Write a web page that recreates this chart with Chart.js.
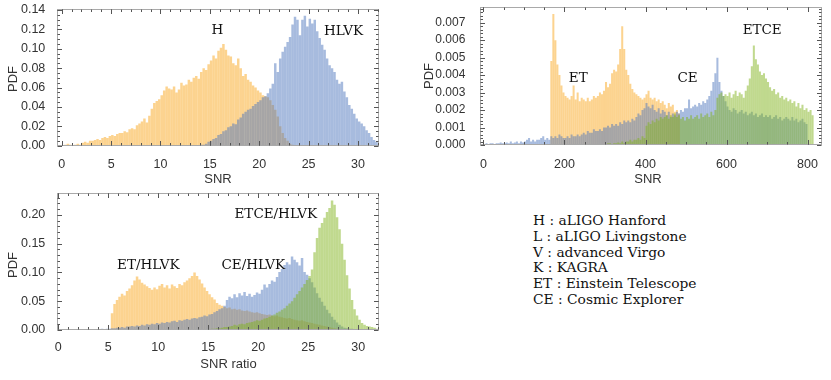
<!DOCTYPE html>
<html>
<head>
<meta charset="utf-8">
<script src="https://cdn.jsdelivr.net/npm/chart.js@4.4.1/dist/chart.umd.min.js"></script>
<style>
  body { margin: 0; background: #fff; width: 831px; height: 380px; overflow: hidden; position: relative; }
  canvas { position: absolute; }
  #legend { position: absolute; left: 533px; top: 213px; font-family: 'DejaVu Serif'; font-size: 13.8px;
            line-height: 15.8px; color: #111; white-space: pre; }
</style>
</head>
<body>
<canvas id="c1" width="390" height="190" style="left:0;top:0"></canvas>
<canvas id="c2" width="421" height="190" style="left:410px;top:0"></canvas>
<canvas id="c3" width="390" height="195" style="left:0;top:185px"></canvas>
<div id="legend"></div>
<script>
// bin widths
const snrBin = 0.25;
const wideBin = 5;

// panel 1: SNR of H and HLVK
const hStart = 0.25;
const hValues = [
  0.001, 0.002, 0.001,
  0.000, 0.001, 0.002, 0.001,
  0.003, 0.004, 0.003, 0.005,
  0.005, 0.006, 0.007, 0.006,
  0.008, 0.009, 0.008, 0.010,
  0.011, 0.010, 0.012, 0.013,
  0.013, 0.015, 0.014, 0.017,
  0.018, 0.017, 0.021, 0.023,
  0.025, 0.028, 0.024, 0.031,
  0.038, 0.044, 0.046, 0.048,
  0.052, 0.057, 0.061, 0.059,
  0.058, 0.061, 0.055, 0.058,
  0.065, 0.062, 0.063, 0.068,
  0.066, 0.070, 0.072, 0.069,
  0.076, 0.080, 0.078, 0.084,
  0.088, 0.093, 0.090, 0.098,
  0.101, 0.105, 0.099, 0.093,
  0.092, 0.085, 0.083, 0.090,
  0.080, 0.072, 0.074, 0.068,
  0.066, 0.062, 0.060, 0.057,
  0.055, 0.052, 0.051, 0.050,
  0.047, 0.042, 0.037, 0.030,
  0.020, 0.013, 0.008, 0.005,
  0.002, 0.001
];
const hlvkStart = 14.0;
const hlvkValues = [
  0.001, 0.001, 0.002, 0.004,
  0.005, 0.007, 0.008, 0.011,
  0.012, 0.015, 0.016, 0.019,
  0.020, 0.023, 0.022, 0.027,
  0.029, 0.033, 0.035, 0.037,
  0.038, 0.041, 0.043, 0.045,
  0.047, 0.050, 0.051, 0.054,
  0.059, 0.064, 0.085, 0.076,
  0.090, 0.097, 0.102, 0.107,
  0.112, 0.125, 0.133, 0.130,
  0.114, 0.130, 0.134, 0.123,
  0.131, 0.126, 0.130, 0.118,
  0.111, 0.104, 0.099, 0.090,
  0.083, 0.080, 0.076, 0.068,
  0.064, 0.066, 0.056, 0.050,
  0.042, 0.038, 0.033, 0.028,
  0.025, 0.023, 0.020, 0.016,
  0.013, 0.009, 0.006, 0.004,
  0.002
];
const p1XTicks = [0, 5, 10, 15, 20, 25, 30];
const p1YTicks = [0, 0.02, 0.04, 0.06, 0.08, 0.10, 0.12, 0.14];

// panel 2: SNR of ET, CE and ETCE
const etStart = 165;
const etValues = [
  0.0048, 0.0075, 0.0060, 0.0046, 0.0040, 0.0034, 0.0030,
  0.0028, 0.0027, 0.0026, 0.0028, 0.0034, 0.0026, 0.0030, 0.0025, 0.0027, 0.0026,
  0.0025, 0.0027, 0.0025, 0.0026, 0.0028, 0.0027, 0.0028, 0.0030, 0.0029, 0.0031,
  0.0036, 0.0033, 0.0035, 0.0041, 0.0043, 0.0042, 0.0046, 0.0055, 0.0068, 0.0055,
  0.0043, 0.0040, 0.0035, 0.0032, 0.0030, 0.0029, 0.0028, 0.0027, 0.0026, 0.0027,
  0.0029, 0.0031, 0.0027, 0.0026, 0.0027, 0.0025, 0.0026, 0.0024, 0.0025, 0.0023,
  0.0021, 0.0024, 0.0022, 0.0023, 0.0019, 0.0020, 0.0018
];
const ceStart = 0;
const ceValues = [
  0.00005, 0.0001, 0.00005, 0.0001, 0.0001, 0.00005, 0.0001, 0.0001, 0.00015, 0.0001,
  0.0001, 0.00015, 0.0001, 0.0002, 0.0001, 0.00015, 0.0002, 0.0001, 0.0002, 0.00015,
  0.0002, 0.0003, 0.0004, 0.0002, 0.0003, 0.0002, 0.0003, 0.0003, 0.0004, 0.0005,
  0.0003, 0.0004, 0.0003, 0.0005, 0.0004, 0.0005, 0.0004, 0.0006, 0.0005, 0.0004,
  0.0004, 0.0005, 0.0004, 0.0006, 0.0005, 0.0005, 0.0006, 0.0005, 0.0006, 0.0007,
  0.0006, 0.0008, 0.0007, 0.0007, 0.0009, 0.0008, 0.0008, 0.0009, 0.0008, 0.0010,
  0.0010, 0.0011, 0.0010, 0.0012, 0.0011, 0.0012, 0.0011, 0.0013, 0.0012, 0.0014,
  0.0013, 0.0014, 0.0013, 0.0015, 0.0014, 0.0016, 0.0018, 0.0017, 0.0020, 0.0021,
  0.0024, 0.0022, 0.0021, 0.0023, 0.0020, 0.0019, 0.0021, 0.0018, 0.0020, 0.0019,
  0.0017, 0.0019, 0.0016, 0.0018, 0.0017, 0.0019, 0.0018, 0.0020, 0.0019, 0.0021,
  0.0021, 0.0026, 0.0021, 0.0022, 0.0023, 0.0022, 0.0024, 0.0023, 0.0025, 0.0024,
  0.0026, 0.0028, 0.0031, 0.0036, 0.0041, 0.0050, 0.0036, 0.0031, 0.0028, 0.0025,
  0.0022, 0.0020, 0.0019, 0.0021, 0.0020, 0.0018, 0.0019, 0.0020, 0.0018, 0.0019,
  0.0017, 0.0018, 0.0019, 0.0017, 0.0018, 0.0016, 0.0017, 0.0018, 0.0016, 0.0017,
  0.0016, 0.0017, 0.0015, 0.0016, 0.0017, 0.0015, 0.0016, 0.0014, 0.0015, 0.0016,
  0.0015, 0.0014, 0.0016, 0.0014, 0.0015, 0.0013, 0.0014, 0.0015, 0.0013, 0.0012
];
const etceStart = 300;
const etceValues = [
  0.00005, 0.0001, 0.0001, 0.00005, 0.0001, 0.0001, 0.00015, 0.0001, 0.0002, 0.0001,
  0.0002, 0.0002, 0.0003, 0.0002, 0.0003, 0.0003, 0.0004, 0.0003, 0.0005, 0.0004,
  0.0011, 0.0013, 0.0012, 0.0014, 0.0013, 0.0015, 0.0014, 0.0016, 0.0015, 0.0016,
  0.0017, 0.0015, 0.0017, 0.0016, 0.0018, 0.0016, 0.0017, 0.0015, 0.0016, 0.0014,
  0.0016, 0.0015, 0.0017, 0.0015, 0.0016, 0.0017, 0.0015, 0.0018, 0.0016, 0.0017,
  0.0018, 0.0016, 0.0019, 0.0017, 0.0020, 0.0027, 0.0029, 0.0030, 0.0028, 0.0029,
  0.0028, 0.0030, 0.0027, 0.0029, 0.0031, 0.0028, 0.0030, 0.0029, 0.0027, 0.0031,
  0.0034, 0.0038, 0.0045, 0.0057, 0.0049, 0.0046, 0.0042, 0.0040, 0.0041, 0.0038,
  0.0036, 0.0033, 0.0031, 0.0032, 0.0029, 0.0030, 0.0027, 0.0028, 0.0026, 0.0027,
  0.0025, 0.0026, 0.0024, 0.0025, 0.0022, 0.0024, 0.0021, 0.0023, 0.0020, 0.0021,
  0.0019, 0.0020, 0.0017
];
const p2XTicks = [0, 200, 400, 600, 800];
const p2YTicks = [0, 0.001, 0.002, 0.003, 0.004, 0.005, 0.006, 0.007];

// panel 3: SNR ratio against HLVK
const etRatioStart = 5.25;
const etRatioValues = [
  0.029, 0.045, 0.052,
  0.058, 0.063, 0.060, 0.068,
  0.072, 0.078, 0.086, 0.093,
  0.088, 0.082, 0.079, 0.076,
  0.073, 0.070, 0.074, 0.071,
  0.077, 0.080, 0.074, 0.078,
  0.072, 0.079, 0.076, 0.073,
  0.080, 0.078, 0.083, 0.086,
  0.090, 0.094, 0.100, 0.094,
  0.088, 0.081, 0.074, 0.068,
  0.062, 0.057, 0.053, 0.047,
  0.044, 0.042, 0.040, 0.038,
  0.039, 0.036, 0.037, 0.035,
  0.036, 0.034, 0.033, 0.034,
  0.032, 0.031, 0.030, 0.031,
  0.029, 0.028, 0.027, 0.026,
  0.027, 0.025, 0.024, 0.025,
  0.023, 0.022, 0.021, 0.020,
  0.021, 0.019, 0.018, 0.017,
  0.016, 0.017, 0.015, 0.014,
  0.013, 0.012, 0.011, 0.010,
  0.009, 0.008, 0.007, 0.006,
  0.005, 0.004, 0.003, 0.002
];
const ceRatioStart = 1.0;
const ceRatioValues = [
  0.001, 0.000, 0.001, 0.001,
  0.000, 0.001, 0.001, 0.001,
  0.001, 0.001, 0.000, 0.001,
  0.001, 0.002, 0.001, 0.002,
  0.002, 0.003, 0.003, 0.004,
  0.004, 0.005, 0.004, 0.006,
  0.006, 0.007, 0.006, 0.008,
  0.007, 0.009, 0.008, 0.010,
  0.009, 0.011, 0.010, 0.012,
  0.011, 0.013, 0.012, 0.014,
  0.013, 0.015, 0.016, 0.014,
  0.017, 0.016, 0.018, 0.019,
  0.018, 0.020, 0.021, 0.020,
  0.022, 0.023, 0.025, 0.024,
  0.027, 0.028, 0.031, 0.033,
  0.036, 0.038, 0.042, 0.052,
  0.058, 0.055, 0.062, 0.057,
  0.064, 0.060, 0.066, 0.059,
  0.063, 0.058, 0.061, 0.065,
  0.063, 0.070, 0.079, 0.074,
  0.080, 0.086, 0.084, 0.092,
  0.101, 0.106, 0.113, 0.118,
  0.114, 0.128, 0.122, 0.118,
  0.112, 0.125, 0.101, 0.096,
  0.090, 0.083, 0.074, 0.064,
  0.056, 0.049, 0.042, 0.035,
  0.029, 0.023, 0.018, 0.013,
  0.009, 0.006, 0.004, 0.003,
  0.002, 0.002, 0.001, 0.001,
  0.001, 0.000, 0.001
];
const etceRatioStart = 15.0;
const etceRatioValues = [
  0.001, 0.002, 0.002, 0.003,
  0.003, 0.004, 0.005, 0.005,
  0.006, 0.007, 0.009, 0.008,
  0.010, 0.011, 0.010, 0.012,
  0.013, 0.014, 0.015, 0.017,
  0.016, 0.018, 0.020, 0.021,
  0.023, 0.025, 0.027, 0.030,
  0.032, 0.035, 0.038, 0.042,
  0.046, 0.050, 0.056, 0.062,
  0.068, 0.074, 0.080, 0.087,
  0.094, 0.105, 0.135, 0.160,
  0.178, 0.186, 0.195, 0.205,
  0.212, 0.225, 0.218, 0.196,
  0.175, 0.150, 0.122, 0.095,
  0.072, 0.052, 0.036, 0.025,
  0.018, 0.012, 0.009, 0.007,
  0.006, 0.005, 0.004, 0.002
];
const p3XTicks = [0, 5, 10, 15, 20, 25, 30];
const p3YTicks = [0, 0.05, 0.10, 0.15, 0.20];

const legendLines = [
  'H : aLIGO Hanford',
  'L : aLIGO Livingstone',
  'V : advanced Virgo',
  'K : KAGRA',
  'ET : Einstein Telescope',
  'CE : Cosmic Explorer'
];

const orange = 'rgba(250,170,40,0.52)';
const blue = 'rgba(80,120,190,0.5)';
const green = 'rgba(130,180,30,0.5)';

const tickFont = { family: 'Liberation Sans', size: 12.5 };
const titleFont = '13px "Liberation Sans"';
const labelFont = '13.5px "DejaVu Serif"';

function toBins(start, width, values) {
  return values.map((v, i) => ({ x: start + (i + 0.5) * width, y: v }));
}

// frame with inward ticks on all four sides, plus text labels
const frameTicks = {
  id: 'frameTicks',
  afterDatasetsDraw(chart, args, o) {
    const { ctx, chartArea: a, scales: { x, y } } = chart;
    const L = Math.round(a.left) + 0.5, R = Math.round(a.right) - 0.5;
    const T = Math.round(a.top) + 0.5, B = Math.round(a.bottom) - 0.5;
    ctx.save();
    ctx.lineWidth = 1;
    ctx.strokeStyle = '#a9a9a9';
    ctx.strokeRect(L, T, R - L, B - T);
    ctx.strokeStyle = '#555';
    ctx.beginPath();
    const xMark = (v, len) => {
      const p = Math.round(x.getPixelForValue(v)) + 0.5;
      ctx.moveTo(p, B); ctx.lineTo(p, B - len);
      ctx.moveTo(p, T); ctx.lineTo(p, T + len);
    };
    const yMark = (v, len) => {
      const p = Math.round(y.getPixelForValue(v)) + 0.5;
      ctx.moveTo(L, p); ctx.lineTo(L + len, p);
      ctx.moveTo(R, p); ctx.lineTo(R - len, p);
    };
    for (let i = Math.ceil(x.min / o.xMinor); i * o.xMinor <= x.max; i++) xMark(i * o.xMinor, 2.5);
    for (let i = 1; i * o.yMinor <= y.max; i++) yMark(i * o.yMinor, 2.5);
    x.ticks.forEach(t => xMark(t.value, 4.5));
    y.ticks.forEach(t => yMark(t.value, 4.5));
    ctx.stroke();
    ctx.restore();
  },
  afterDraw(chart, args, o) {
    const { ctx, scales: { x, y } } = chart;
    ctx.save();
    ctx.fillStyle = '#111';
    ctx.textAlign = 'center';
    ctx.font = labelFont;
    o.labels.forEach(l => {
      ctx.fillText(l.text, x.getPixelForValue(l.x), y.getPixelForValue(l.y) + 4.9);
    });
    ctx.fillStyle = '#333';
    ctx.font = titleFont;
    o.titles.forEach(t => {
      ctx.save();
      ctx.translate(t.px, t.py);
      if (t.rot) ctx.rotate(-Math.PI / 2);
      ctx.fillText(t.text, 0, 4.6);
      ctx.restore();
    });
    ctx.restore();
  }
};

function histChart(id, c) {
  return new Chart(document.getElementById(id), {
    type: 'bar',
    data: {
      datasets: c.sets.map(s => ({
        data: toBins(s.start, c.bin, s.values),
        backgroundColor: s.color,
        borderWidth: 0,
        inflateAmount: 0,
        order: s.order,
        barPercentage: 1,
        categoryPercentage: 1,
        grouped: false
      }))
    },
    options: {
      responsive: false,
      animation: false,
      layout: { padding: c.pad },
      plugins: {
        legend: { display: false },
        tooltip: { enabled: false },
        frameTicks: { xMinor: c.xMinor, yMinor: c.yMinor, labels: c.labels, titles: c.titles }
      },
      scales: {
        x: {
          type: 'linear', offset: false, min: c.xMin, max: c.xMax,
          grid: { display: false }, border: { display: false },
          ticks: { font: tickFont, color: '#333', padding: c.xPad, maxRotation: 0, autoSkip: false,
                   callback: v => String(v) },
          afterBuildTicks: s => { s.ticks = c.xTicks.map(v => ({ value: v })); },
          afterFit: s => { s.height = c.xHeight; s.paddingLeft = 0; s.paddingRight = 0; }
        },
        y: {
          min: 0, max: c.yMax,
          grid: { display: false }, border: { display: false },
          ticks: { font: c.yFont || tickFont, color: '#333', padding: c.yPad, autoSkip: false,
                   callback: v => v.toFixed(c.digits) },
          afterBuildTicks: s => { s.ticks = c.yTicks.map(v => ({ value: v })); },
          afterFit: s => { s.width = c.yWidth; s.paddingTop = 0; s.paddingBottom = 0; }
        }
      }
    },
    plugins: [frameTicks]
  });
}

histChart('c1', {
  bin: snrBin,
  sets: [
    { start: hStart, values: hValues, color: orange, order: 2 },
    { start: hlvkStart, values: hlvkValues, color: blue, order: 1 }
  ],
  pad: { left: 0, right: 11, top: 9, bottom: 0 },
  xMin: -0.48, xMax: 32.13, yMax: 0.141,
  xTicks: p1XTicks, yTicks: p1YTicks, xMinor: 1, yMinor: 0.005, digits: 2,
  xHeight: 44.3, yWidth: 57, xPad: 3.5, yPad: 3.7,
  labels: [{ text: 'H', x: 15.77, y: 0.1199 }, { text: 'HLVK', x: 28.54, y: 0.1197 }],
  titles: [{ text: 'PDF', px: 12.5, py: 79, rot: true }, { text: 'SNR', px: 218, py: 178 }]
});

histChart('c2', {
  bin: wideBin,
  sets: [
    { start: etStart, values: etValues, color: orange, order: 3 },
    { start: ceStart, values: ceValues, color: blue, order: 2 },
    { start: etceStart, values: etceValues, color: green, order: 1 }
  ],
  pad: { left: 0, right: 9.3, top: 7.3, bottom: 0 },
  xMin: -8.6, xMax: 835, yMax: 0.00788,
  xTicks: p2XTicks, yTicks: p2YTicks, xMinor: 50, yMinor: 0.0002, digits: 3,
  yFont: { family: 'Liberation Sans', size: 12 },
  xHeight: 45, yWidth: 70, xPad: 4.2, yPad: 6.7,
  labels: [{ text: 'ET', x: 234, y: 0.00391 }, { text: 'CE', x: 504, y: 0.00389 },
           { text: 'ETCE', x: 688, y: 0.00665 }],
  titles: [{ text: 'PDF', px: 18, py: 76, rot: true }, { text: 'SNR', px: 238, py: 178 }]
});

histChart('c3', {
  bin: snrBin,
  sets: [
    { start: etRatioStart, values: etRatioValues, color: orange, order: 3 },
    { start: ceRatioStart, values: ceRatioValues, color: blue, order: 2 },
    { start: etceRatioStart, values: etceRatioValues, color: green, order: 1 }
  ],
  pad: { left: 0, right: 11, top: 8.3, bottom: 0 },
  xMin: -0.13, xMax: 32.07, yMax: 0.2377,
  xTicks: p3XTicks, yTicks: p3YTicks, xMinor: 1, yMinor: 0.01, digits: 2,
  xHeight: 50, yWidth: 57, xPad: 2.5, yPad: 3.7,
  labels: [{ text: 'ET/HLVK', x: 9.0, y: 0.1144 }, { text: 'CE/HLVK', x: 19.5, y: 0.1151 },
           { text: 'ETCE/HLVK', x: 21.75, y: 0.203 }],
  titles: [{ text: 'PDF', px: 12.5, py: 80, rot: true }, { text: 'SNR ratio', px: 228.5, py: 178 }]
});

document.getElementById('legend').textContent = legendLines.join('\n');
</script>
</body>
</html>
